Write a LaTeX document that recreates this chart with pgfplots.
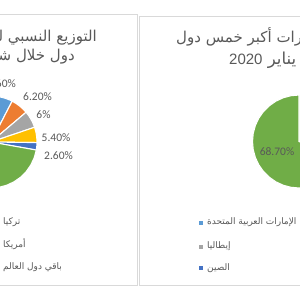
\documentclass[border=0pt]{standalone}
\usepackage{fontspec}
\usepackage{pgfplots}
\pgfplotsset{compat=1.18}
\setmainfont{Carlito}
\newfontfamily\arabicfont[Script=Arabic]{DejaVu Sans}
\newfontfamily\latinfont{Liberation Sans}
\TeXXeTstate=1
\definecolor{cblue}{HTML}{5B9BD5}
\definecolor{corange}{HTML}{ED7D31}
\definecolor{cgray}{HTML}{A5A5A5}
\definecolor{cyellow}{HTML}{FFC000}
\definecolor{cdblue}{HTML}{4472C4}
\definecolor{cgreen}{HTML}{70AD47}
\definecolor{ctext}{HTML}{595959}
\definecolor{cborder}{HTML}{D9D9D9}
\begin{document}
\begin{tikzpicture}
\path[use as bounding box] (0,0) rectangle (300pt,-300pt);
\clip (0,0) rectangle (300pt,-300pt);
\fill[white] (0,0) rectangle (300pt,-300pt);
\begin{scope}[x=1pt,y=-1pt]
\draw[cborder, line width=0.9pt] (-5,14) rectangle (137,285);
\draw[cborder, line width=0.9pt] (139.5,16) rectangle (305,285);
\end{scope}
% left pie
\begin{axis}[at={(0pt,-300pt)}, anchor=south west, width=300pt, height=300pt,
  scale only axis, hide axis, xmin=9, xmax=309, ymin=-158, ymax=142]
\addplot[data cs=polar, fill=cblue, draw=white, line width=1.1pt] coordinates {(0,0) (90,46) (84,46) (78,46) (72,46) (66,46) (62.64,46)} --cycle;
\addplot[data cs=polar, fill=corange, draw=white, line width=1.1pt] coordinates {(0,0) (62.64,46) (57,46) (51,46) (45,46) (40.32,46)} --cycle;
\addplot[data cs=polar, fill=cgray, draw=white, line width=1.1pt] coordinates {(0,0) (40.32,46) (35,46) (30,46) (25,46) (18.72,46)} --cycle;
\addplot[data cs=polar, fill=cyellow, draw=white, line width=1.1pt] coordinates {(0,0) (18.72,46) (13,46) (7,46) (1,46) (-0.72,46)} --cycle;
\addplot[data cs=polar, fill=cdblue, draw=white, line width=1.1pt] coordinates {(0,0) (-0.72,46) (-5,46) (-10.08,46)} --cycle;
\addplot[data cs=polar, fill=cgreen, draw=white, line width=1.1pt] coordinates {(0,0) (-10.08,46) (-20,46) (-30,46) (-40,46) (-50,46) (-60,46) (-70,46) (-80,46) (-90,46) (-100,46) (-110,46) (-120,46) (-130,46) (-140,46) (-150,46) (-160,46) (-170,46) (-180,46) (-190,46) (-200,46) (-210,46) (-220,46) (-230,46) (-240,46) (-250,46) (-260,46) (-270,46)} --cycle;
\end{axis}
% right pie
\begin{axis}[at={(0pt,-300pt)}, anchor=south west, width=300pt, height=300pt,
  scale only axis, hide axis, xmin=-299, xmax=1, ymin=-158.5, ymax=141.5]
\addplot[data cs=polar, fill=cgreen, draw=white, line width=1.1pt] coordinates {(0,0) (90,46.5) (100,46.5) (110,46.5) (120,46.5) (130,46.5) (140,46.5) (150,46.5) (160,46.5) (170,46.5) (180,46.5) (190,46.5) (200,46.5) (210,46.5) (220,46.5) (230,46.5) (240,46.5) (250,46.5) (260,46.5) (270,46.5) (280,46.5) (290,46.5) (300,46.5) (310,46.5) (320,46.5) (330,46.5) (337.32,46.5)} --cycle;
\end{axis}
\begin{scope}[x=1pt,y=-1pt]
% data labels
\begin{scope}[font=\fontsize{11.5}{12}\selectfont, text=ctext, inner sep=0pt]
\node at (1.5,83.5) {7.60\%};
\node at (37.5,97) {6.20\%};
\node at (43.5,115) {6\%};
\node at (56,137.5) {5.40\%};
\node at (58.5,155.5) {2.60\%};
\node at (277,152) {68.70\%};
\end{scope}
% titles
\begin{scope}[font=\fontsize{15}{18}\selectfont, text=ctext, inner sep=0pt]
\node[anchor=base east] at (97,41) {\arabicfont\beginR التوزيع النسبي لواردات أكبر خمس\endR};
\node[anchor=base east] at (75,60) {\arabicfont\beginR دول خلال شهر يناير {\latinfont 2020}\endR};
\node[anchor=base west] at (176,42) {\arabicfont\beginR التوزيع النسبي لصادرات أكبر خمس دول\endR};
\node[anchor=base west] at (229,64) {\arabicfont\fontsize{16.5}{18}\selectfont\beginR خلال شهر يناير {\latinfont\fontsize{15}{18}\selectfont 2020}\endR};
\end{scope}
% legends
\begin{scope}[font=\fontsize{9}{11}\selectfont, text=ctext, inner sep=0pt]
\node[anchor=west] at (3,222) {\arabicfont\beginR تركيا\endR};
\node[anchor=west] at (3,244) {\arabicfont\beginR أمريكا\endR};
\node[anchor=west] at (3,267) {\arabicfont\beginR باقي دول العالم\endR};
\fill[cblue] (198.5,220.5) rectangle (202.5,224.5);
\fill[cgray] (198.5,244.5) rectangle (202.5,248.5);
\fill[cdblue] (198.5,266) rectangle (202.5,270);
\node[anchor=west] at (207,222.5) {\arabicfont\beginR الإمارات العربية المتحدة\endR};
\node[anchor=west] at (207,246.5) {\arabicfont\beginR إيطاليا\endR};
\node[anchor=west] at (207,268) {\arabicfont\beginR الصين\endR};
\end{scope}
\end{scope}
\end{tikzpicture}
\end{document}
